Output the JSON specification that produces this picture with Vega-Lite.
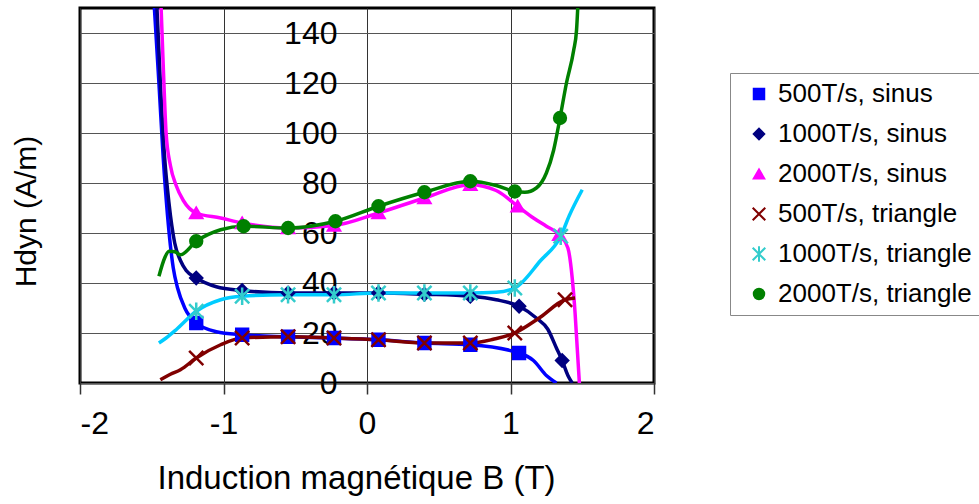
{
  "$schema": "https://vega.github.io/schema/vega-lite/v6.json",
  "width": 574,
  "height": 375,
  "autosize": "none",
  "padding": {"left": 80, "top": 8, "right": 325, "bottom": 121},
  "background": "white",
  "config": {
    "font": "Liberation Sans",
    "view": {"stroke": "black", "strokeWidth": 3}
  },
  "data": {
    "values": [
      {"s": "500T/s, sinus", "B": -1.49, "H": 158, "m": 0},
      {"s": "500T/s, sinus", "B": -1.45, "H": 120, "m": 0},
      {"s": "500T/s, sinus", "B": -1.42, "H": 90, "m": 0},
      {"s": "500T/s, sinus", "B": -1.39, "H": 67, "m": 0},
      {"s": "500T/s, sinus", "B": -1.37, "H": 55, "m": 0},
      {"s": "500T/s, sinus", "B": -1.35, "H": 46, "m": 0},
      {"s": "500T/s, sinus", "B": -1.32, "H": 38, "m": 0},
      {"s": "500T/s, sinus", "B": -1.27, "H": 30, "m": 0},
      {"s": "500T/s, sinus", "B": -1.19, "H": 24, "m": 1},
      {"s": "500T/s, sinus", "B": -1.05, "H": 20.5, "m": 0},
      {"s": "500T/s, sinus", "B": -0.87, "H": 19.3, "m": 1},
      {"s": "500T/s, sinus", "B": -0.55, "H": 18.5, "m": 1},
      {"s": "500T/s, sinus", "B": -0.23, "H": 18, "m": 1},
      {"s": "500T/s, sinus", "B": 0.08, "H": 17.3, "m": 1},
      {"s": "500T/s, sinus", "B": 0.4, "H": 16, "m": 1},
      {"s": "500T/s, sinus", "B": 0.72, "H": 15.3, "m": 1},
      {"s": "500T/s, sinus", "B": 1.06, "H": 12, "m": 1},
      {"s": "500T/s, sinus", "B": 1.16, "H": 9, "m": 0},
      {"s": "500T/s, sinus", "B": 1.25, "H": 3, "m": 0},
      {"s": "500T/s, sinus", "B": 1.32, "H": 0, "m": 0},

      {"s": "1000T/s, sinus", "B": -1.47, "H": 158, "m": 0},
      {"s": "1000T/s, sinus", "B": -1.44, "H": 120, "m": 0},
      {"s": "1000T/s, sinus", "B": -1.41, "H": 90, "m": 0},
      {"s": "1000T/s, sinus", "B": -1.38, "H": 72, "m": 0},
      {"s": "1000T/s, sinus", "B": -1.34, "H": 56, "m": 0},
      {"s": "1000T/s, sinus", "B": -1.3, "H": 49, "m": 0},
      {"s": "1000T/s, sinus", "B": -1.26, "H": 45, "m": 0},
      {"s": "1000T/s, sinus", "B": -1.19, "H": 42, "m": 1},
      {"s": "1000T/s, sinus", "B": -1.05, "H": 38.5, "m": 0},
      {"s": "1000T/s, sinus", "B": -0.87, "H": 37, "m": 1},
      {"s": "1000T/s, sinus", "B": -0.55, "H": 36, "m": 1},
      {"s": "1000T/s, sinus", "B": -0.23, "H": 36, "m": 1},
      {"s": "1000T/s, sinus", "B": 0.08, "H": 36, "m": 1},
      {"s": "1000T/s, sinus", "B": 0.4, "H": 35.5, "m": 1},
      {"s": "1000T/s, sinus", "B": 0.72, "H": 34.7, "m": 1},
      {"s": "1000T/s, sinus", "B": 0.9, "H": 33.3, "m": 0},
      {"s": "1000T/s, sinus", "B": 1.06, "H": 30.7, "m": 1},
      {"s": "1000T/s, sinus", "B": 1.18, "H": 26, "m": 0},
      {"s": "1000T/s, sinus", "B": 1.26, "H": 21.5, "m": 0},
      {"s": "1000T/s, sinus", "B": 1.32, "H": 14, "m": 0},
      {"s": "1000T/s, sinus", "B": 1.36, "H": 9, "m": 1},
      {"s": "1000T/s, sinus", "B": 1.4, "H": 3, "m": 0},
      {"s": "1000T/s, sinus", "B": 1.43, "H": 0, "m": 0},

      {"s": "2000T/s, sinus", "B": -1.44, "H": 158, "m": 0},
      {"s": "2000T/s, sinus", "B": -1.42, "H": 127, "m": 0},
      {"s": "2000T/s, sinus", "B": -1.4, "H": 100, "m": 0},
      {"s": "2000T/s, sinus", "B": -1.37, "H": 87, "m": 0},
      {"s": "2000T/s, sinus", "B": -1.33, "H": 79, "m": 0},
      {"s": "2000T/s, sinus", "B": -1.28, "H": 73, "m": 0},
      {"s": "2000T/s, sinus", "B": -1.19, "H": 68, "m": 1},
      {"s": "2000T/s, sinus", "B": -1.02, "H": 66, "m": 0},
      {"s": "2000T/s, sinus", "B": -0.87, "H": 64, "m": 1},
      {"s": "2000T/s, sinus", "B": -0.55, "H": 62, "m": 1},
      {"s": "2000T/s, sinus", "B": -0.23, "H": 63, "m": 1},
      {"s": "2000T/s, sinus", "B": 0.08, "H": 68, "m": 1},
      {"s": "2000T/s, sinus", "B": 0.4, "H": 74, "m": 1},
      {"s": "2000T/s, sinus", "B": 0.72, "H": 79.3, "m": 1},
      {"s": "2000T/s, sinus", "B": 0.9, "H": 77, "m": 0},
      {"s": "2000T/s, sinus", "B": 1.05, "H": 70.7, "m": 1},
      {"s": "2000T/s, sinus", "B": 1.16, "H": 66, "m": 0},
      {"s": "2000T/s, sinus", "B": 1.25, "H": 62.7, "m": 0},
      {"s": "2000T/s, sinus", "B": 1.34, "H": 59.3, "m": 1},
      {"s": "2000T/s, sinus", "B": 1.4, "H": 54, "m": 0},
      {"s": "2000T/s, sinus", "B": 1.43, "H": 42, "m": 0},
      {"s": "2000T/s, sinus", "B": 1.45, "H": 28, "m": 0},
      {"s": "2000T/s, sinus", "B": 1.465, "H": 14, "m": 0},
      {"s": "2000T/s, sinus", "B": 1.48, "H": 0, "m": 0},

      {"s": "500T/s, triangle", "B": -1.44, "H": 1.3, "m": 0},
      {"s": "500T/s, triangle", "B": -1.37, "H": 3.5, "m": 0},
      {"s": "500T/s, triangle", "B": -1.3, "H": 5.3, "m": 0},
      {"s": "500T/s, triangle", "B": -1.19, "H": 10, "m": 1},
      {"s": "500T/s, triangle", "B": -1.02, "H": 15.3, "m": 0},
      {"s": "500T/s, triangle", "B": -0.87, "H": 18, "m": 1},
      {"s": "500T/s, triangle", "B": -0.55, "H": 18.5, "m": 1},
      {"s": "500T/s, triangle", "B": -0.23, "H": 18, "m": 1},
      {"s": "500T/s, triangle", "B": 0.08, "H": 17.3, "m": 1},
      {"s": "500T/s, triangle", "B": 0.4, "H": 16, "m": 1},
      {"s": "500T/s, triangle", "B": 0.72, "H": 16, "m": 1},
      {"s": "500T/s, triangle", "B": 0.88, "H": 17.5, "m": 0},
      {"s": "500T/s, triangle", "B": 1.03, "H": 20, "m": 1},
      {"s": "500T/s, triangle", "B": 1.2, "H": 26, "m": 0},
      {"s": "500T/s, triangle", "B": 1.38, "H": 33.3, "m": 1},
      {"s": "500T/s, triangle", "B": 1.45, "H": 34, "m": 0},

      {"s": "1000T/s, triangle", "B": -1.45, "H": 16, "m": 0},
      {"s": "1000T/s, triangle", "B": -1.4, "H": 18, "m": 0},
      {"s": "1000T/s, triangle", "B": -1.33, "H": 21.3, "m": 0},
      {"s": "1000T/s, triangle", "B": -1.19, "H": 28.7, "m": 1},
      {"s": "1000T/s, triangle", "B": -1.02, "H": 33.3, "m": 0},
      {"s": "1000T/s, triangle", "B": -0.87, "H": 34.7, "m": 1},
      {"s": "1000T/s, triangle", "B": -0.55, "H": 35.3, "m": 1},
      {"s": "1000T/s, triangle", "B": -0.23, "H": 35.3, "m": 1},
      {"s": "1000T/s, triangle", "B": 0.08, "H": 36, "m": 1},
      {"s": "1000T/s, triangle", "B": 0.4, "H": 36, "m": 1},
      {"s": "1000T/s, triangle", "B": 0.72, "H": 36, "m": 1},
      {"s": "1000T/s, triangle", "B": 0.9, "H": 36.3, "m": 0},
      {"s": "1000T/s, triangle", "B": 1.03, "H": 38, "m": 1},
      {"s": "1000T/s, triangle", "B": 1.21, "H": 49, "m": 0},
      {"s": "1000T/s, triangle", "B": 1.35, "H": 58.7, "m": 1},
      {"s": "1000T/s, triangle", "B": 1.41, "H": 67, "m": 0},
      {"s": "1000T/s, triangle", "B": 1.5, "H": 77.3, "m": 0},

      {"s": "2000T/s, triangle", "B": -1.45, "H": 42.7, "m": 0},
      {"s": "2000T/s, triangle", "B": -1.41, "H": 50, "m": 0},
      {"s": "2000T/s, triangle", "B": -1.38, "H": 52.7, "m": 0},
      {"s": "2000T/s, triangle", "B": -1.34, "H": 52.5, "m": 0},
      {"s": "2000T/s, triangle", "B": -1.3, "H": 51.3, "m": 0},
      {"s": "2000T/s, triangle", "B": -1.19, "H": 56.7, "m": 1},
      {"s": "2000T/s, triangle", "B": -1.02, "H": 61.3, "m": 0},
      {"s": "2000T/s, triangle", "B": -0.86, "H": 62.7, "m": 1},
      {"s": "2000T/s, triangle", "B": -0.55, "H": 62, "m": 1},
      {"s": "2000T/s, triangle", "B": -0.22, "H": 64.7, "m": 1},
      {"s": "2000T/s, triangle", "B": 0.08, "H": 70.7, "m": 1},
      {"s": "2000T/s, triangle", "B": 0.4, "H": 76.3, "m": 1},
      {"s": "2000T/s, triangle", "B": 0.72, "H": 80.7, "m": 1},
      {"s": "2000T/s, triangle", "B": 0.9, "H": 79, "m": 0},
      {"s": "2000T/s, triangle", "B": 1.03, "H": 76.6, "m": 1},
      {"s": "2000T/s, triangle", "B": 1.1, "H": 76.3, "m": 0},
      {"s": "2000T/s, triangle", "B": 1.18, "H": 78, "m": 0},
      {"s": "2000T/s, triangle", "B": 1.25, "H": 84, "m": 0},
      {"s": "2000T/s, triangle", "B": 1.3, "H": 93, "m": 0},
      {"s": "2000T/s, triangle", "B": 1.345, "H": 106, "m": 1},
      {"s": "2000T/s, triangle", "B": 1.39, "H": 120, "m": 0},
      {"s": "2000T/s, triangle", "B": 1.44, "H": 133, "m": 0},
      {"s": "2000T/s, triangle", "B": 1.46, "H": 141, "m": 0},
      {"s": "2000T/s, triangle", "B": 1.475, "H": 158, "m": 0}
    ]
  },
  "encoding": {
    "x": {
      "field": "B", "type": "quantitative",
      "scale": {"domain": [-2, 2], "nice": false, "zero": false},
      "axis": {
        "title": "Induction magnétique B (T)",
        "values": [-2, -1, 0, 1, 2],
        "labelExpr": "datum.value",
        "grid": true, "gridColor": "#333", "gridWidth": 1, "gridOpacity": 1,
        "domain": false,
        "tickSize": 11, "tickColor": "#333", "tickWidth": 1.5,
        "labelFontSize": 32, "labelColor": "black", "labelPadding": 14,
        "titleFontSize": 33, "titleFontWeight": "normal", "titleColor": "black", "titlePadding": 23,
        "titleX": 276
      }
    },
    "y": {
      "field": "H", "type": "quantitative",
      "scale": {"domain": [0, 150], "nice": false},
      "axis": {
        "title": "Hdyn (A/m)",
        "values": [0, 20, 40, 60, 80, 100, 120, 140],
        "offset": -287,
        "grid": true, "gridColor": "#555", "gridWidth": 1, "gridOpacity": 1,
        "domain": false, "ticks": false,
        "labelFontSize": 32, "labelColor": "black", "labelPadding": 30,
        "titleFontSize": 30, "titleFontWeight": "normal", "titleColor": "black",
        "titleX": -326, "titleY": 203, "titleAngle": -90, "titleAlign": "center", "titleBaseline": "bottom"
      }
    }
  },
  "layer": [
    {
      "mark": {
        "type": "line", "interpolate": "monotone", "strokeWidth": 3.5, "clip": true,
        "stroke": {"expr": "datum.s == '1000T/s, triangle' ? '#00CCFF' : scale('color', datum.s)"}
      },
      "encoding": {
        "detail": {"field": "s", "type": "nominal"}
      }
    },
    {
      "transform": [{"filter": "datum.m == 1"}],
      "mark": {
        "type": "point", "filled": false, "opacity": 1, "strokeWidth": 2.5, "size": 140, "clip": true,
        "fill": {"expr": "scale('color', datum.s ? datum.s : datum.value)"}, "fillOpacity": 1
      },
      "encoding": {
        "color": {
          "field": "s", "type": "nominal",
          "scale": {
            "domain": ["500T/s, sinus", "1000T/s, sinus", "2000T/s, sinus", "500T/s, triangle", "1000T/s, triangle", "2000T/s, triangle"],
            "range": ["#0000FF", "#000080", "#FF00FF", "#800000", "#33CCCC", "#008000"]
          },
          "legend": {
            "title": null, "orient": "none", "legendX": 650, "legendY": 65,
            "strokeColor": "#888", "fillColor": "white", "padding": 8,
            "symbolOffset": 8, "labelOffset": 6, "labelFontSize": 26, "labelColor": "black",
            "labelFont": "Liberation Sans",
            "rowPadding": 14, "symbolSize": 110, "symbolStrokeWidth": 2, "labelLimit": 400
          }
        },
        "shape": {
          "field": "s", "type": "nominal",
          "scale": {
            "domain": ["500T/s, sinus", "1000T/s, sinus", "2000T/s, sinus", "500T/s, triangle", "1000T/s, triangle", "2000T/s, triangle"],
            "range": ["square", "diamond", "triangle-up", "M-1.2,-1.2L1.2,1.2M-1.2,1.2L1.2,-1.2", "M-1.2,-1.2L1.2,1.2M-1.2,1.2L1.2,-1.2M0,-1.5L0,1.5", "circle"]
          }
        }
      }
    }
  ]
}
